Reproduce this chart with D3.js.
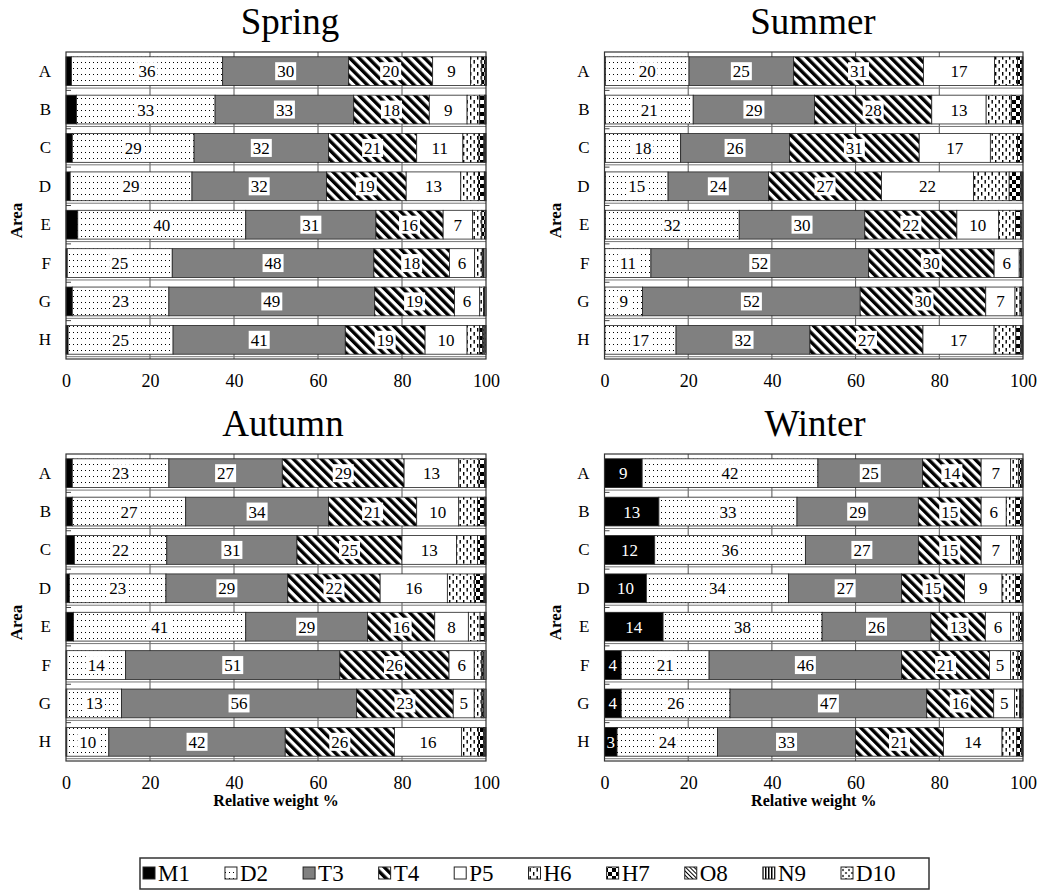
<!DOCTYPE html>
<html>
<head>
<meta charset="utf-8">
<script src="https://cdn.jsdelivr.net/npm/d3@7"></script>
<style>
  body { margin: 0; background: #fff; }
  svg { display: block; }
</style>
</head>
<body>
<svg id="chart" width="1043" height="894"></svg>
<script>
// ---- data ----
const areas = ["A", "B", "C", "D", "E", "F", "G", "H"];
const components = ["M1", "D2", "T3", "T4", "P5", "H6", "H7", "O8", "N9", "D10"];
const labelledComponents = ["M1", "D2", "T3", "T4", "P5"];
const xTicks = [0, 20, 40, 60, 80, 100];

// relative weight (%) of each component per area, one table per season
const spring = {
  M1:  [1.3, 2.5, 1.5, 1.0, 2.8, 0.3, 1.5, 0.5],
  D2:  [36, 33, 29, 29, 40, 25, 23, 25],
  T3:  [30, 33, 32, 32, 31, 48, 49, 41],
  T4:  [20, 18, 21, 19, 16, 18, 19, 19],
  P5:  [9, 9, 11, 13, 7, 6, 6, 10],
  H6:  [2.7, 3.0, 3.8, 4.2, 2.2, 1.8, 0.9, 3.0],
  H7:  [0.8, 1.2, 1.2, 1.4, 0.8, 0.2, 0.2, 0.7],
  O8:  [0.1, 0.1, 0.2, 0.1, 0.1, 0.1, 0.1, 0.3],
  N9:  [0.1, 0.1, 0.2, 0.2, 0.1, 0.6, 0.3, 0.3],
  D10: [0.1, 0.1, 0.1, 0.1, 0.0, 0.0, 0.0, 0.2]
};
const summer = {
  M1:  [0.2, 0.2, 0.2, 0.2, 0.2, 0.1, 0.1, 0.1],
  D2:  [20, 21, 18, 15, 32, 11, 9, 17],
  T3:  [25, 29, 26, 24, 30, 52, 52, 32],
  T4:  [31, 28, 31, 27, 22, 30, 30, 27],
  P5:  [17, 13, 17, 22, 10, 6, 7, 17],
  H6:  [5.5, 6.0, 6.5, 8.5, 4.0, 0.3, 1.2, 5.2],
  H7:  [1.1, 2.4, 1.1, 2.8, 1.2, 0.1, 0.3, 1.2],
  O8:  [0.1, 0.2, 0.1, 0.2, 0.3, 0.1, 0.1, 0.2],
  N9:  [0.1, 0.1, 0.1, 0.2, 0.3, 0.4, 0.3, 0.2],
  D10: [0.0, 0.1, 0.0, 0.1, 0.0, 0.0, 0.0, 0.1]
};
const autumn = {
  M1:  [1.5, 1.5, 2.0, 0.8, 1.8, 0.2, 0.2, 0.2],
  D2:  [23, 27, 22, 23, 41, 14, 13, 10],
  T3:  [27, 34, 31, 29, 29, 51, 56, 42],
  T4:  [29, 21, 25, 22, 16, 26, 23, 26],
  P5:  [13, 10, 13, 16, 8, 6, 5, 16],
  H6:  [4.8, 4.5, 5.0, 6.5, 2.8, 1.8, 1.8, 4.0],
  H7:  [1.4, 1.6, 1.6, 2.2, 1.0, 0.3, 0.3, 1.2],
  O8:  [0.1, 0.2, 0.2, 0.2, 0.2, 0.2, 0.2, 0.3],
  N9:  [0.1, 0.1, 0.1, 0.2, 0.2, 0.5, 0.5, 0.2],
  D10: [0.1, 0.1, 0.1, 0.1, 0.0, 0.0, 0.0, 0.1]
};
const winter = {
  M1:  [9, 13, 12, 10, 14, 4, 4, 3],
  D2:  [42, 33, 36, 34, 38, 21, 26, 24],
  T3:  [25, 29, 27, 27, 26, 46, 47, 33],
  T4:  [14, 15, 15, 15, 13, 21, 16, 21],
  P5:  [7, 6, 7, 9, 6, 5, 5, 14],
  H6:  [2.0, 2.2, 2.0, 3.2, 2.0, 1.8, 1.2, 3.5],
  H7:  [0.6, 1.4, 0.7, 1.4, 0.7, 0.8, 0.2, 1.1],
  O8:  [0.2, 0.2, 0.1, 0.2, 0.1, 0.2, 0.1, 0.2],
  N9:  [0.1, 0.1, 0.1, 0.1, 0.1, 0.1, 0.3, 0.1],
  D10: [0.1, 0.1, 0.1, 0.1, 0.1, 0.1, 0.2, 0.1]
};

// ---- layout ----
const SERIF = "'Liberation Serif', 'Times New Roman', Times, serif";
const panels = [
  { title: "Spring", data: spring, x0: 66,  x1: 486,  y0: 52,  y1: 359, titleX: 290, xTitle: false },
  { title: "Summer", data: summer, x0: 604.5, x1: 1023, y0: 52,  y1: 359, titleX: 813, xTitle: false },
  { title: "Autumn", data: autumn, x0: 66,  x1: 486,  y0: 454, y1: 761, titleX: 283, xTitle: true },
  { title: "Winter", data: winter, x0: 604.5, x1: 1023, y0: 454, y1: 761, titleX: 815, xTitle: true }
];

const svg = d3.select("#chart");
const defs = svg.append("defs");

// fill patterns for the components
function pattern(id, w, h, transform) {
  const p = defs.append("pattern")
    .attr("id", id).attr("patternUnits", "userSpaceOnUse")
    .attr("width", w).attr("height", h);
  if (transform) p.attr("patternTransform", transform);
  p.append("rect").attr("width", w).attr("height", h).attr("fill", "#fff");
  return p;
}
{
  const d2 = pattern("pD2", 4, 6);
  d2.append("rect").attr("x", 1).attr("y", 2).attr("width", 1).attr("height", 1)
    .attr("fill", "#000").attr("shape-rendering", "crispEdges");

  const t4 = pattern("pT4", 6.6, 6.6, "rotate(-45)");
  t4.append("rect").attr("width", 3.4).attr("height", 6.6).attr("fill", "#000");

  const h6 = pattern("pH6", 7, 8);
  h6.append("rect").attr("x", 1).attr("y", 0).attr("width", 1.4).attr("height", 3.6).attr("fill", "#000");
  h6.append("rect").attr("x", 4.5).attr("y", 4).attr("width", 1.4).attr("height", 3.6).attr("fill", "#000");

  const h7 = pattern("pH7", 8, 8);
  h7.append("rect").attr("width", 4).attr("height", 4).attr("fill", "#000");
  h7.append("rect").attr("x", 4).attr("y", 4).attr("width", 4).attr("height", 4).attr("fill", "#000");

  const o8 = pattern("pO8", 3, 3, "rotate(-45)");
  o8.append("rect").attr("width", 1).attr("height", 3).attr("fill", "#000");

  const n9 = pattern("pN9", 3, 3);
  n9.append("rect").attr("width", 1.5).attr("height", 3).attr("fill", "#000");

  const d10 = pattern("pD10", 6, 6);
  [[3, 0.5], [0.5, 3], [5.5, 3], [3, 5.5]].forEach(([cx, cy]) =>
    d10.append("circle").attr("cx", cx).attr("cy", cy).attr("r", 0.7).attr("fill", "#000"));
}

const fills = {
  M1: "#000", D2: "url(#pD2)", T3: "#808080", T4: "url(#pT4)", P5: "#fff",
  H6: "url(#pH6)", H7: "url(#pH7)", O8: "url(#pO8)", N9: "url(#pN9)", D10: "url(#pD10)"
};

panels.forEach(p => {
  const g = svg.append("g");
  const x = d3.scaleLinear().domain([0, 100]).range([p.x0, p.x1]);
  const y = d3.scaleBand().domain(areas).range([p.y0, p.y1])
    .paddingInner(0.25).paddingOuter(0.125);

  const rows = areas.map((a, i) => {
    const r = { area: a };
    components.forEach(c => { r[c] = p.data[c][i]; });
    return r;
  });
  const stacked = d3.stack().keys(components)(rows);

  // vertical gridlines
  g.append("g").selectAll("line").data(xTicks.slice(1, -1)).join("line")
    .attr("x1", d => x(d)).attr("x2", d => x(d))
    .attr("y1", p.y0).attr("y2", p.y1)
    .attr("stroke", "#555").attr("stroke-width", 1);

  // thin rule just below each bar
  g.append("g").selectAll("line").data(areas).join("line")
    .attr("x1", p.x0).attr("x2", p.x1)
    .attr("y1", d => y(d) + y.bandwidth() + 2.5).attr("y2", d => y(d) + y.bandwidth() + 2.5)
    .attr("stroke", "#777").attr("stroke-width", 1);

  // category boundary ticks
  g.append("g").selectAll("line").data(areas.slice(1)).join("line")
    .attr("x1", p.x0).attr("x2", p.x0 + 5)
    .attr("y1", d => y(d) - y.step() * y.paddingInner() / 2)
    .attr("y2", d => y(d) - y.step() * y.paddingInner() / 2)
    .attr("stroke", "#444").attr("stroke-width", 1);

  // stacked segments
  const segs = g.append("g").selectAll("g").data(stacked).join("g")
    .attr("fill", s => fills[s.key]);
  segs.selectAll("rect").data(s => s.map(d => Object.assign(d, { key: s.key }))).join("rect")
    .attr("x", d => x(d[0])).attr("width", d => x(d[1]) - x(d[0]))
    .attr("y", d => y(d.data.area)).attr("height", y.bandwidth())
    .attr("stroke", "#222").attr("stroke-width", 0.8);

  // value labels
  const lab = g.append("g").attr("font-family", SERIF).attr("font-size", 17);
  stacked.filter(s => labelledComponents.includes(s.key)).forEach(s => {
    s.forEach(d => {
      const v = d[1] - d[0];
      if (v < 3) return;
      const cx = x((d[0] + d[1]) / 2);
      const cy = y(d.data.area) + y.bandwidth() / 2;
      const t = lab.append("text")
        .attr("x", cx).attr("y", cy).attr("dy", "0.35em")
        .attr("text-anchor", "middle")
        .attr("fill", s.key === "M1" ? "#fff" : "#000")
        .text(d3.format("d")(v));
      if (s.key !== "M1") {
        const w = t.node().getComputedTextLength();
        lab.insert("rect", () => t.node())
          .attr("x", cx - w / 2 - 2).attr("y", cy - 9)
          .attr("width", w + 4).attr("height", 18)
          .attr("fill", "#fff");
      }
    });
  });

  // frame
  g.append("rect")
    .attr("x", p.x0).attr("y", p.y0)
    .attr("width", p.x1 - p.x0).attr("height", p.y1 - p.y0)
    .attr("fill", "none").attr("stroke", "#333").attr("stroke-width", 1.2);

  // axes
  const xa = g.append("g").attr("transform", `translate(0,${p.y1})`)
    .call(d3.axisBottom(x).tickValues(xTicks).tickSize(0).tickPadding(15).tickFormat(d3.format("d")));
  xa.select(".domain").remove();
  xa.selectAll("text").attr("font-family", SERIF).attr("font-size", 18).attr("fill", "#000");

  const ya = g.append("g").attr("transform", `translate(${p.x0},0)`)
    .call(d3.axisLeft(y).tickSize(0).tickPadding(15));
  ya.select(".domain").remove();
  ya.selectAll("text").attr("font-family", SERIF).attr("font-size", 17).attr("fill", "#000");

  // titles
  g.append("text")
    .attr("x", p.titleX).attr("y", p.y0 - 18)
    .attr("text-anchor", "middle")
    .attr("font-family", SERIF).attr("font-size", 37)
    .text(p.title);

  g.append("text")
    .attr("transform", `translate(${p.x0 - 44},${(p.y0 + p.y1) / 2 + 15}) rotate(-90)`)
    .attr("text-anchor", "middle")
    .attr("font-family", SERIF).attr("font-size", 17).attr("font-weight", "bold")
    .text("Area");

  if (p.xTitle) {
    g.append("text")
      .attr("x", (p.x0 + p.x1) / 2).attr("y", p.y1 + 45)
      .attr("text-anchor", "middle")
      .attr("font-family", SERIF).attr("font-size", 16).attr("font-weight", "bold")
      .text("Relative weight %");
  }
});

// ---- legend ----
const legend = svg.append("g").attr("font-family", SERIF).attr("font-size", 23);
legend.append("rect")
  .attr("x", 140).attr("y", 858).attr("width", 789).attr("height", 31)
  .attr("fill", "#fff").attr("stroke", "#333").attr("stroke-width", 1.5);
let lx = 143;
components.forEach(c => {
  legend.append("rect")
    .attr("x", lx).attr("y", 867).attr("width", 12).attr("height", 12)
    .attr("fill", fills[c]).attr("stroke", "#222").attr("stroke-width", 1);
  const t = legend.append("text")
    .attr("x", lx + 15).attr("y", 881)
    .text(c);
  lx += 15 + t.node().getComputedTextLength() + 35;
});
</script>
</body>
</html>
